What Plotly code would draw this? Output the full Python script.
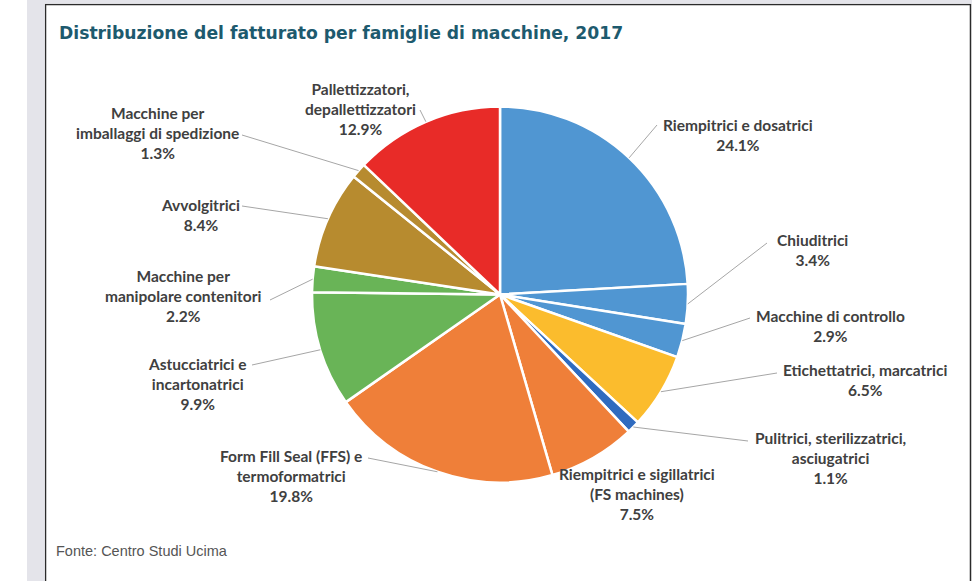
import math
import plotly.graph_objects as go

# ---- data ----
categories = [
    "Riempitrici e dosatrici",
    "Chiuditrici",
    "Macchine di controllo",
    "Etichettatrici, marcatrici",
    "Pulitrici, sterilizzatrici,<br>asciugatrici",
    "Riempitrici e sigillatrici<br>(FS machines)",
    "Form Fill Seal (FFS) e<br>termoformatrici",
    "Astucciatrici e<br>incartonatrici",
    "Macchine per<br>manipolare contenitori",
    "Avvolgitrici",
    "Macchine per<br>imballaggi di spedizione",
    "Pallettizzatori,<br>depallettizzatori",
]
values = [24.1, 3.4, 2.9, 6.5, 1.1, 7.5, 19.8, 9.9, 2.2, 8.4, 1.3, 12.9]
colors = ["#5096d2", "#5096d2", "#5096d2", "#fbbc2d", "#2f6bbf", "#ef7f39",
          "#ef7f39", "#69b457", "#69b457", "#b78b2f", "#b78b2f", "#e82b28"]

W, H = 972, 581
CX, CY, R = 500, 294.5, 188

# label placement (pixel): text center x, text center y, leader start x, y (None = no leader)
label_pos = [
    (738, 135, 657, 125),
    (812, 250, 767, 243),
    (830, 326, 750, 318),
    (865, 380, 777, 373),
    (830, 458, 748, 441),
    (637, 494, None, None),
    (291, 476, 368, 458),
    (197, 384, 252, 365),
    (183, 296, 270, 300),
    (200, 215, 242, 206),
    (157, 133, 242, 135),
    (360, 109, 420, 110),
]

def px(x):
    return x / W

def py(y):
    return 1 - y / H

fig = go.Figure()
fig.add_trace(go.Pie(
    labels=[c.replace("<br>", " ") for c in categories],
    values=values,
    sort=False,
    direction="clockwise",
    rotation=0,
    textinfo="none",
    hoverinfo="label+percent",
    marker=dict(colors=colors, line=dict(color="white", width=2.5)),
    domain=dict(x=[px(CX - R), px(CX + R)], y=[py(CY + R), py(CY - R)]),
    showlegend=False,
))

shapes = [
    # white panel with dark border
    dict(type="rect", xref="paper", yref="paper", x0=px(45.5), x1=px(970.5),
         y0=py(600), y1=py(4.5), fillcolor="white",
         line=dict(color="#2b2b2b", width=1.5), layer="below"),
    # grey left band
    dict(type="rect", xref="paper", yref="paper", x0=px(27), x1=px(44.8),
         y0=py(600), y1=py(0), fillcolor="#e4e4ea", line=dict(width=0), layer="below"),
    dict(type="rect", xref="paper", yref="paper", x0=px(27), x1=px(972),
         y0=py(3.8), y1=py(0), fillcolor="#e4e4ea", line=dict(width=0), layer="below"),
]

annotations = []
total = sum(values)
cum = 0.0
for cat, v, pos in zip(categories, values, label_pos):
    mid = (cum + v / 2) / total * 2 * math.pi
    cum += v
    ex = CX + R * math.sin(mid)
    ey = CY - R * math.cos(mid)
    tx, ty, lx, ly = pos
    annotations.append(dict(
        x=px(tx), y=py(ty), xref="paper", yref="paper",
        text=f"{cat}<br>{v:.1f}%", showarrow=False,
        font=dict(family="Lato", size=15.5, color="#404040", weight="bold"),
        align="center", xanchor="center", yanchor="middle",
    ))
    if lx is not None:
        shapes.append(dict(type="line", xref="paper", yref="paper",
                           x0=px(lx), y0=py(ly), x1=px(ex), y1=py(ey),
                           line=dict(color="#a6a6a6", width=1)))

annotations.append(dict(
    x=px(57), y=py(33), xref="paper", yref="paper", xanchor="left", yanchor="middle",
    text="<b>Distribuzione del fatturato per famiglie di macchine, 2017</b>",
    showarrow=False, font=dict(family="DejaVu Sans", size=17.2, color="#1d5a6e"),
))
annotations.append(dict(
    x=px(54), y=py(551), xref="paper", yref="paper", xanchor="left", yanchor="middle",
    text="Fonte: Centro Studi Ucima", showarrow=False,
    font=dict(family="Liberation Sans", size=14.5, color="#555555"),
))

fig.update_layout(
    width=W, height=H,
    margin=dict(l=0, r=0, t=0, b=0),
    paper_bgcolor="white",
    plot_bgcolor="white",
    shapes=shapes,
    annotations=annotations,
)

fig.write_html("out.html", config={"displayModeBar": False},
               post_script="document.body.style.margin='0px';")
